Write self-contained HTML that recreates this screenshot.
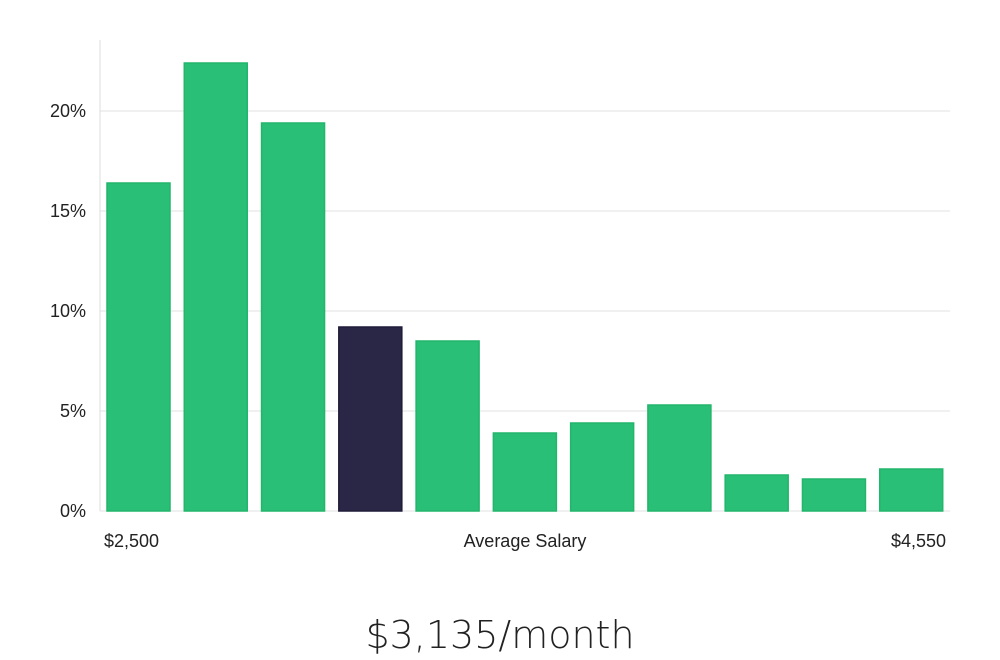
<!DOCTYPE html>
<html><head><meta charset="utf-8"><style>
html,body{margin:0;padding:0;background:#fff;width:1000px;height:660px;overflow:hidden;font-family:"Liberation Sans","DejaVu Sans",sans-serif}
</style></head><body>
<svg id="chart" width="1000" height="660" xmlns="http://www.w3.org/2000/svg">
<g id="grid"></g>
<g id="bars"></g>
<g id="ylabels"></g>
<line x1="100" y1="40" x2="100" y2="511" stroke="#ddd" stroke-width="1"/>
<text x="104" y="547" font-size="18" fill="#222">$2,500</text>
<text x="525" y="547" font-size="18" fill="#222" text-anchor="middle">Average Salary</text>
<text x="946" y="547" font-size="18" fill="#222" text-anchor="end">$4,550</text>
<text x="500" y="648" font-size="38" fill="#222" text-anchor="middle" font-family="DejaVu Sans, sans-serif" font-weight="300">$3,135/month</text>
</svg>
<script>
const values = [16.4, 22.4, 19.4, 9.2, 8.5, 3.9, 4.4, 5.3, 1.8, 1.6, 2.1];
const highlightIndex = [3];
const yTicks = [0, 5, 10, 15, 20];
const yTickLabels = ["0%", "5%", "10%", "15%", "20%"];
const NS = "http://www.w3.org/2000/svg";
const x0 = 100, x1 = 950, yBase = 511, pxPerUnit = 20;
const step = (x1 - x0) / values.length;
function xScale(i){ return x0 + i * step + 7; }
function yScale(v){ return yBase - v * pxPerUnit; }
const grid = document.getElementById('grid');
const yl = document.getElementById('ylabels');
yTicks.forEach((t, i) => {
  const l = document.createElementNS(NS, 'line');
  
  
  l.setAttribute('x1', x0); l.setAttribute('x2', x1);
  l.setAttribute('y1', yScale(t)); l.setAttribute('y2', yScale(t));
  l.setAttribute('stroke', '#e0e0e0'); l.setAttribute('stroke-width', '1');
  grid.appendChild(l);
  const tx = document.createElementNS(NS, 'text');
  
  
  tx.setAttribute('x', 86); tx.setAttribute('y', yScale(t) + 6);
  tx.setAttribute('text-anchor', 'end'); tx.setAttribute('font-size', '18'); tx.setAttribute('fill', '#222');
  tx.textContent = yTickLabels[i];
  yl.appendChild(tx);
});
const bars = document.getElementById('bars');
values.forEach((v, i) => {
  const r = document.createElementNS(NS, 'rect');
  
  
  const hl = highlightIndex.includes(i);
  r.setAttribute('x', xScale(i)); r.setAttribute('y', yScale(v));
  r.setAttribute('width', 63); r.setAttribute('height', yBase - yScale(v));
  r.setAttribute('fill', hl ? '#2a2645' : '#2abf76');
  r.setAttribute('stroke', hl ? '#1f1c38' : '#22b56c'); r.setAttribute('stroke-width', '1.5');
  bars.appendChild(r);
});
</script>
</body></html>
